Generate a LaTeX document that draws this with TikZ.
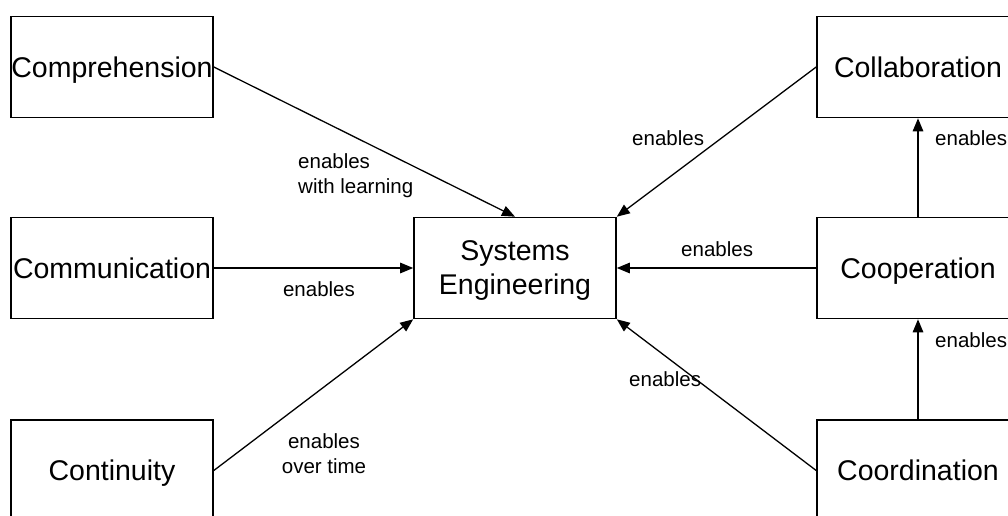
\documentclass[tikz,border=0pt]{standalone}
\usepackage{fontspec}
\setmainfont{Liberation Sans}
\usetikzlibrary{arrows.meta}
\tikzset{
  concept/.style={draw=black, line width=1.6pt, fill=white, inner sep=0pt,
    minimum width=202pt, minimum height=101pt, align=center, text depth=0pt,
    font=\fontsize{28.5}{34}\selectfont},
  link/.style={line width=1.3pt, -{Triangle[length=13pt,width=10.5pt]}},
  tag/.style={inner sep=0pt, font=\fontsize{20.5}{25}\selectfont}
}
\begin{document}
\begin{tikzpicture}[x=1pt,y=-1pt]
  \useasboundingbox (0,0) rectangle (1008,516);
  \clip (0,0) rectangle (1008,516);

  % concept boxes
  \node[concept] (comp) at (112,67)  {Comprehension};
  \node[concept] (comm) at (112,268) {Communication};
  \node[concept] (cont) at (112,470.5) {Continuity};
  \node[concept] (se)   at (515,268) {Systems\\Engineering};
  \node[concept] (coll) at (918,67)  {Collaboration};
  \node[concept] (coop) at (918,268) {Cooperation};
  \node[concept] (coor) at (918,470.5) {Coordination};

  % connectors into systems engineering
  \draw[link] (comp.east) -- (se.north);
  \draw[link] (comm.east) -- (se.west);
  \draw[link] (cont.east) -- (se.south west);
  \draw[link] (coll.west) -- (se.north east);
  \draw[link] (coop.west) -- (se.east);
  \draw[link] (coor.west) -- (se.south east);
  % chain on the right
  \draw[link] (coop.north) -- (coll.south);
  \draw[link] (coor.north) -- (coop.south);

  % connector labels (base = baseline of the last line)
  \node[tag, anchor=base west, align=left] (l1) at (298,193) {enables\\with learning};
  \node[tag, anchor=base] (l2) at (319,296) {enables};
  \node[tag, anchor=base, align=center] (l3) at (324,473) {enables\\over time};
  \node[tag, anchor=base west] (l4) at (632,145) {enables};
  \node[tag, anchor=base west] (l5) at (681,256) {enables};
  \node[tag, anchor=base west] (l6) at (629,386) {enables};
  \node[tag, anchor=base west] (l7) at (935,145) {enables};
  \node[tag, anchor=base west] (l8) at (935,347) {enables};
\end{tikzpicture}
\end{document}
